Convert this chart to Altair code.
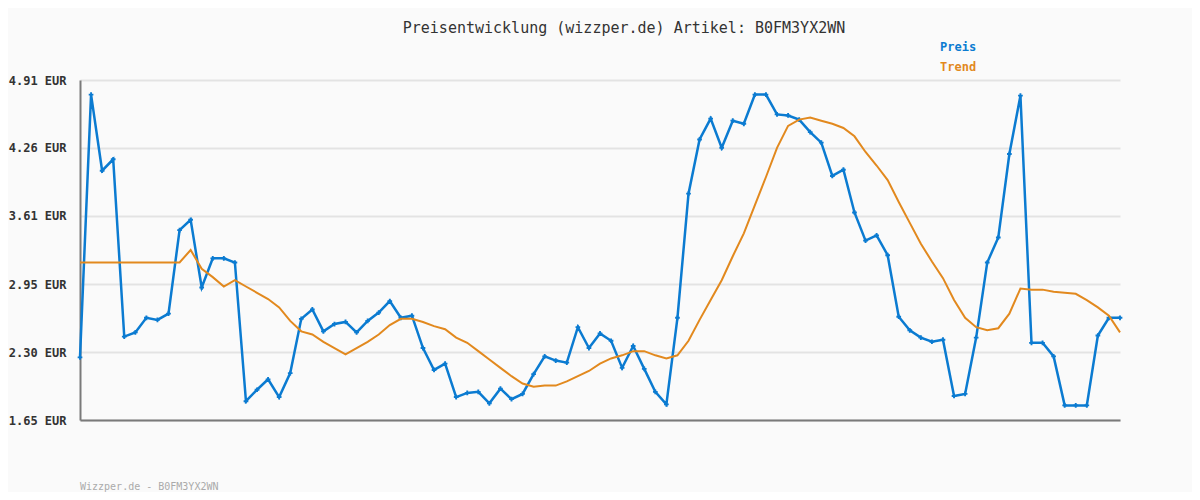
import altair as alt
import pandas as pd

# ---- data ----
price = [2.25, 4.77, 4.04, 4.15, 2.45, 2.49, 2.63, 2.61, 2.67, 3.47,
         3.57, 2.92, 3.20, 3.20, 3.16, 1.83, 1.94, 2.04, 1.87, 2.10,
         2.62, 2.71, 2.50, 2.57, 2.59, 2.49, 2.60, 2.68, 2.79, 2.63,
         2.65, 2.34, 2.13, 2.19, 1.87, 1.91, 1.92, 1.81, 1.95, 1.85,
         1.90, 2.09, 2.26, 2.22, 2.20, 2.54, 2.34, 2.48, 2.41, 2.15,
         2.36, 2.14, 1.92, 1.80, 2.63, 3.82, 4.34, 4.54, 4.26, 4.52,
         4.49, 4.77, 4.77, 4.58, 4.57, 4.53, 4.41, 4.31, 3.99, 4.05,
         3.64, 3.37, 3.42, 3.23, 2.64, 2.51, 2.44, 2.40, 2.42, 1.88,
         1.90, 2.44, 3.16, 3.40, 4.20, 4.76, 2.39, 2.39, 2.26, 1.79,
         1.79, 1.79, 2.46, 2.63, 2.63]

trend = [3.16, 3.16, 3.16, 3.16, 3.16, 3.16, 3.16, 3.16, 3.16, 3.16,
         3.28, 3.10, 3.02, 2.93, 2.99, 2.93, 2.87, 2.81, 2.73, 2.60,
         2.50, 2.47, 2.40, 2.34, 2.28, 2.34, 2.40, 2.47, 2.56, 2.62,
         2.62, 2.59, 2.55, 2.52, 2.44, 2.39, 2.31, 2.23, 2.15, 2.07,
         2.00, 1.97, 1.98, 1.98, 2.02, 2.07, 2.12, 2.19, 2.24, 2.27,
         2.31, 2.31, 2.27, 2.24, 2.27, 2.41, 2.61, 2.80, 2.99, 3.22,
         3.44, 3.71, 3.98, 4.26, 4.47, 4.53, 4.55, 4.52, 4.49, 4.45,
         4.37, 4.22, 4.09, 3.95, 3.74, 3.54, 3.34, 3.17, 3.01, 2.80,
         2.63, 2.54, 2.51, 2.53, 2.67, 2.91, 2.90, 2.90, 2.88, 2.87,
         2.86, 2.80, 2.73, 2.65, 2.49]

y_ticks = [1.65, 2.30, 2.95, 3.61, 4.26, 4.91]
series_names = ["Preis", "Trend"]
series_colors = ["#0b7bd1", "#e2891e"]
title_text = "Preisentwicklung (wizzper.de) Artikel: B0FM3YX2WN"
footer_text = "Wizzper.de - B0FM3YX2WN"

n = len(price)
df_price = pd.DataFrame({"i": list(range(n)), "value": price, "series": "Preis"})
df_trend = pd.DataFrame({"i": list(range(n)), "value": trend, "series": "Trend"})

MONO = "DejaVu Sans Mono"

color = alt.Color("series:N",
                  scale=alt.Scale(domain=series_names, range=series_colors),
                  legend=None)

x_enc = alt.X("i:Q",
              scale=alt.Scale(domain=[0, n - 1], nice=False, zero=False),
              axis=alt.Axis(title=None, labels=False, ticks=False, grid=False,
                            domain=True, domainColor="#7a7a7a", domainWidth=2))
y_enc = alt.Y("value:Q",
              scale=alt.Scale(domain=[y_ticks[0], y_ticks[-1]], nice=False, zero=False),
              axis=alt.Axis(title=None, values=y_ticks,
                            labelExpr="format(datum.value, '.2f') + ' EUR'",
                            labelFont=MONO, labelFontWeight="bold", labelFontSize=12,
                            labelColor="#333333", labelPadding=14,
                            ticks=False, grid=True, gridColor="#e3e3e3", gridWidth=2,
                            domain=True, domainColor="#7a7a7a", domainWidth=2))

price_line = alt.Chart(df_price).mark_line(
    strokeWidth=2.5,
    point=alt.OverlayMarkDef(shape="cross", size=22, filled=True, color=series_colors[0])
).encode(x=x_enc, y=y_enc, color=color)

trend_line = alt.Chart(df_trend).mark_line(strokeWidth=2).encode(
    x="i:Q", y="value:Q", color=color)

leg_preis = alt.Chart(pd.DataFrame({"series": ["Preis"]})).mark_text(
    align="left", baseline="middle", font=MONO, fontWeight="bold", fontSize=12
).encode(x=alt.value(860), y=alt.value(-33), text="series:N", color=color)

leg_trend = alt.Chart(pd.DataFrame({"series": ["Trend"]})).mark_text(
    align="left", baseline="middle", font=MONO, fontWeight="bold", fontSize=12
).encode(x=alt.value(860), y=alt.value(-13), text="series:N", color=color)

title = alt.Chart(pd.DataFrame({"t": [title_text]})).mark_text(
    align="center", baseline="middle", font=MONO, fontSize=15, color="#333333"
).encode(x=alt.value(544), y=alt.value(-52), text="t:N")

footer = alt.Chart(pd.DataFrame({"t": [footer_text]})).mark_text(
    align="left", baseline="middle", font=MONO, fontSize=10, color="#aaaaaa"
).encode(x=alt.value(0), y=alt.value(407), text="t:N")

chart = alt.layer(price_line, trend_line, leg_preis, leg_trend, title, footer).properties(
    width=1040, height=340,
    autosize=alt.AutoSizeParams(type="none"),
    padding={"left": 72, "top": 72, "right": 72, "bottom": 72},
    background="#fafafa",
).configure_view(stroke=None)

chart.save("out.html", embed_options={"renderer": "svg", "actions": False})
